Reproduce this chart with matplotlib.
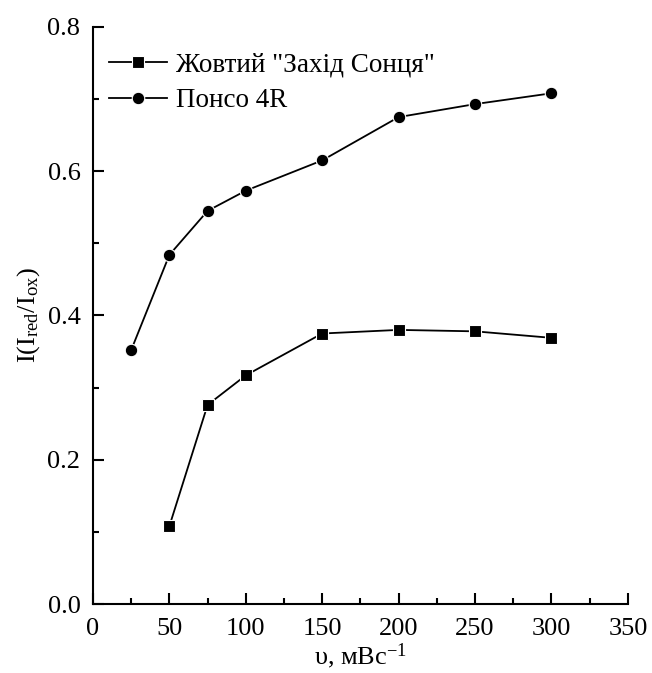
import numpy as np
import matplotlib.pyplot as plt
from matplotlib.ticker import MultipleLocator

plt.rcParams['font.family'] = ['Liberation Serif', 'DejaVu Serif']
plt.rcParams['mathtext.fontset'] = 'custom'
plt.rcParams['mathtext.rm'] = 'Liberation Serif'
plt.rcParams['mathtext.it'] = 'Liberation Serif:italic'

# data
v_yellow = [50, 75, 100, 150, 200, 250, 300]
i_yellow = [0.108, 0.276, 0.317, 0.375, 0.380, 0.378, 0.369]
v_ponceau = [25, 50, 75, 100, 150, 200, 250, 300]
i_ponceau = [0.352, 0.484, 0.545, 0.573, 0.615, 0.675, 0.693, 0.708]

fig = plt.figure(figsize=(6.52, 6.73), dpi=100)
ax = fig.add_axes([0.1426, 0.1025, 0.8204, 0.8575])

ax.plot(v_yellow, i_yellow, color='black', lw=1.3, marker='s', ms=8.5,
        mec='white', mew=0.8, label='Жовтий "Захід Сонця"')
ax.plot(v_ponceau, i_ponceau, color='black', lw=1.3, marker='o', ms=9,
        mec='white', mew=0.8, label='Понсо 4R')

ax.set_xlim(0, 350)
ax.set_ylim(0, 0.8)
ax.xaxis.set_major_locator(MultipleLocator(50))
ax.xaxis.set_minor_locator(MultipleLocator(25))
ax.yaxis.set_major_locator(MultipleLocator(0.2))
ax.yaxis.set_minor_locator(MultipleLocator(0.1))
ax.yaxis.set_major_formatter(plt.FuncFormatter(lambda y, p: '%.1f' % y))

for s in ['top', 'right']:
    ax.spines[s].set_visible(False)
for s in ['left', 'bottom']:
    ax.spines[s].set_linewidth(1.5)
ax.tick_params(which='major', direction='in', length=8, width=1.5, labelsize=19)
ax.tick_params(axis='x', which='major', pad=10)
ax.tick_params(axis='y', which='major', pad=9)
ax.tick_params(which='minor', direction='in', length=4.5, width=1.5)

ax.set_xlabel('υ, мВс$^{-1}$', fontsize=19, labelpad=1)
ax.set_ylabel(r'I(I$_{\mathregular{red}}$/I$_{\mathregular{ox}}$)', fontsize=19, labelpad=4)

ax.legend(loc='upper left', frameon=False, fontsize=19.5, handlelength=2.15,
          handletextpad=0.3, labelspacing=0.4, borderaxespad=0.0,
          bbox_to_anchor=(0.01, 0.975))

fig.savefig('out.png', dpi=100)
